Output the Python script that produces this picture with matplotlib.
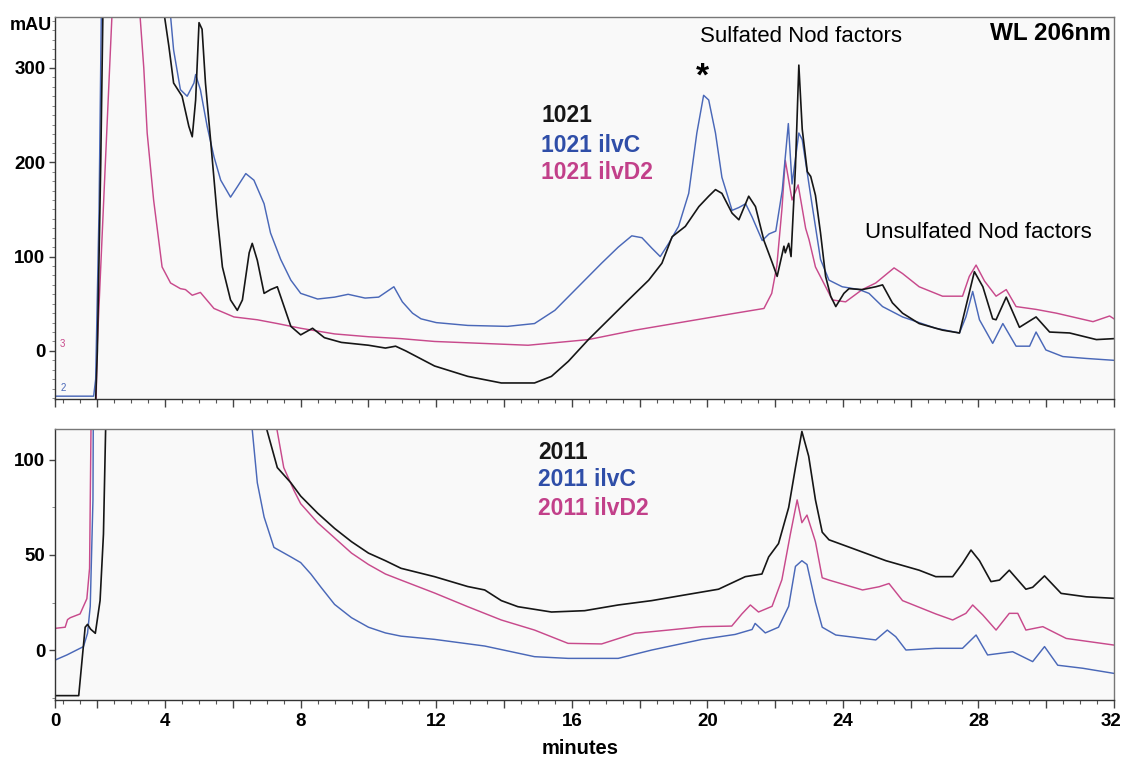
import matplotlib
matplotlib.use("Agg")
import matplotlib.pyplot as plt
import matplotlib.transforms as mtransforms
from matplotlib.ticker import MultipleLocator, FixedLocator
import numpy as np

plt.rcParams['font.family'] = ['Liberation Sans', 'DejaVu Sans']

# ---- data (minutes, mAU) ----
# upper panel: 1021 strains
top_1021 = [(0.75, -52), (1.95, -52), (2.0, 0), (2.1, 200), (2.18, 400), (2.3, 600), (3.9, 600),
            (3.96, 360), (4.11, 323), (4.25, 284), (4.5, 270), (4.7, 238), (4.8, 227), (4.9, 266),
            (5.0, 348), (5.09, 341), (5.19, 284), (5.34, 224), (5.54, 142), (5.69, 89), (5.93, 54),
            (6.13, 43), (6.28, 54), (6.48, 104), (6.57, 114), (6.72, 96), (6.92, 61), (7.11, 65),
            (7.31, 68), (7.51, 47), (7.71, 26), (8.0, 17), (8.35, 24), (8.7, 14), (9.2, 9),
            (10.0, 6), (10.5, 3), (10.8, 5), (11.1, 0), (11.95, -16), (12.93, -27), (13.92, -34),
            (14.9, -34), (15.4, -27), (15.9, -11), (16.49, 12), (17.08, 33), (17.67, 54),
            (18.27, 75), (18.66, 93), (18.96, 121), (19.35, 132), (19.75, 153), (20.04, 164),
            (20.24, 171), (20.43, 167), (20.73, 146), (20.93, 139), (21.22, 164), (21.42, 153),
            (21.67, 117), (21.92, 93), (22.06, 79), (22.26, 111), (22.3, 104), (22.4, 114),
            (22.47, 100), (22.6, 195), (22.7, 303), (22.8, 235), (22.95, 190), (23.05, 185),
            (23.19, 165), (23.34, 125), (23.49, 79), (23.64, 58), (23.79, 47), (24.03, 61),
            (24.18, 66), (24.57, 65), (24.97, 68), (25.17, 70), (25.46, 51), (25.76, 40),
            (26.25, 29), (26.94, 22), (27.44, 19), (27.63, 47), (27.88, 84), (28.13, 68),
            (28.42, 34), (28.52, 33), (28.82, 57), (29.21, 25), (29.7, 36), (30.1, 20),
            (30.69, 19), (31.48, 12), (32.0, 13)]

top_ilvC = [(0.75, -48), (1.89, -48), (1.95, -30), (2.05, 150), (2.13, 400), (2.3, 600), (4.0, 600),
            (4.16, 355), (4.25, 319), (4.45, 277), (4.65, 270), (4.85, 284), (4.9, 293), (5.04, 277),
            (5.24, 238), (5.44, 206), (5.64, 181), (5.93, 163), (6.13, 174), (6.38, 188), (6.62, 181),
            (6.92, 156), (7.11, 125), (7.41, 97), (7.71, 75), (8.0, 61), (8.5, 55), (9.0, 57),
            (9.4, 60), (9.9, 56), (10.3, 57), (10.75, 68), (11.0, 52), (11.3, 40), (11.55, 34),
            (12.0, 30), (12.93, 27), (14.1, 26), (14.9, 29), (15.5, 43), (16.19, 68), (16.88, 93),
            (17.37, 110), (17.77, 122), (18.07, 120), (18.36, 109), (18.61, 100), (18.86, 114),
            (19.15, 132), (19.45, 167), (19.69, 231), (19.89, 271), (20.04, 266), (20.24, 231),
            (20.43, 184), (20.73, 149), (20.93, 152), (21.13, 156), (21.32, 142), (21.62, 117),
            (21.82, 124), (22.02, 127), (22.21, 170), (22.39, 241), (22.5, 177), (22.7, 231),
            (22.8, 224), (23.09, 155), (23.34, 97), (23.59, 75), (23.98, 68), (24.48, 65),
            (24.77, 61), (25.17, 47), (25.76, 36), (26.74, 24), (27.44, 19), (27.63, 36),
            (27.83, 63), (28.03, 33), (28.42, 8), (28.72, 29), (29.11, 5), (29.51, 5), (29.7, 20),
            (29.99, 1), (30.49, -6), (31.18, -8), (32.0, -10)]

top_ilvD2 = [(0.75, -60), (1.96, -60), (1.99, 0), (2.2, 170), (2.43, 355), (2.5, 600), (3.2, 600),
             (3.26, 355), (3.37, 300), (3.47, 231), (3.66, 160), (3.91, 89), (4.16, 72), (4.45, 66),
             (4.6, 65), (4.8, 59), (5.04, 62), (5.44, 45), (6.03, 36), (6.72, 33), (7.31, 29),
             (8.0, 24), (9.0, 18), (10.0, 15), (10.96, 13), (11.95, 10), (14.71, 6), (16.49, 12),
             (17.87, 22), (19.35, 31), (20.83, 40), (21.67, 45), (21.9, 61), (22.05, 90), (22.2, 150),
             (22.3, 202), (22.5, 160), (22.68, 176), (22.9, 130), (23.0, 118), (23.19, 89),
             (23.39, 75), (23.69, 54), (24.08, 52), (24.57, 65), (24.97, 72), (25.51, 88),
             (25.76, 82), (26.25, 68), (26.94, 58), (27.53, 58), (27.73, 79), (27.93, 91),
             (28.18, 74), (28.52, 58), (28.82, 65), (29.11, 47), (29.7, 44), (30.3, 40),
             (31.38, 31), (31.87, 37), (32.0, 34)]

# lower panel: 2011 strains
bot_2011 = [(0.75, -24), (1.45, -24), (1.55, -5), (1.64, 12), (1.71, 13.5), (1.8, 11), (1.94, 8.8),
            (2.08, 26), (2.18, 61), (2.26, 130), (2.3, 300), (6.9, 300), (7.0, 116), (7.31, 96),
            (7.71, 88), (8.0, 81), (8.5, 72), (9.0, 64), (9.5, 57), (10.0, 51), (10.5, 47),
            (10.96, 43), (11.95, 38.6), (12.93, 33.4), (13.43, 31.6), (13.92, 26), (14.41, 22.8),
            (15.4, 20), (16.38, 20.7), (17.37, 23.7), (18.36, 26), (19.34, 29), (20.33, 32),
            (21.12, 38.6), (21.61, 40), (21.81, 49), (22.1, 56), (22.4, 75), (22.6, 96),
            (22.79, 115), (22.99, 102), (23.19, 79), (23.39, 62), (23.59, 58), (24.28, 53.5),
            (25.27, 47), (26.25, 42), (26.74, 38.6), (27.24, 38.6), (27.53, 45.6), (27.78, 52.6),
            (28.03, 47), (28.37, 36), (28.62, 36.8), (28.91, 42), (29.4, 32), (29.6, 33),
            (29.95, 39), (30.44, 29.8), (31.18, 28), (32.0, 27.2)]

bot_ilvC = [(0.75, -5.3), (1.1, -2.6), (1.59, 1.8), (1.71, 8.8), (1.79, 23), (1.87, 79), (1.92, 300),
            (6.5, 300), (6.57, 116), (6.72, 88), (6.92, 70), (7.21, 54), (7.71, 49), (8.0, 46),
            (8.3, 40), (8.6, 33), (9.0, 24), (9.5, 17), (10.0, 12), (10.5, 9), (10.96, 7.3),
            (11.95, 5.6), (13.43, 2.1), (14.9, -3.5), (15.89, -4.4), (17.37, -4.4), (18.36, 0),
            (19.84, 5.6), (20.82, 8.2), (21.32, 10.8), (21.41, 14), (21.71, 9), (22.1, 12),
            (22.4, 23), (22.6, 44), (22.79, 47), (22.94, 45), (23.19, 25), (23.39, 12),
            (23.79, 7.9), (24.97, 5.3), (25.31, 10.5), (25.56, 7), (25.86, 0), (26.74, 0.9),
            (27.53, 0.9), (27.93, 7.9), (28.27, -2.6), (29.01, -0.9), (29.6, -6.1), (29.95, 1.8),
            (30.34, -8), (31.08, -9.6), (32.0, -12.3)]

bot_ilvD2 = [(0.75, 11.4), (1.05, 12), (1.12, 16), (1.2, 17), (1.49, 19), (1.69, 27), (1.77, 43),
             (1.82, 130), (1.9, 300), (7.2, 300), (7.3, 116), (7.5, 96), (7.8, 84), (8.0, 77),
             (8.5, 67), (9.0, 59), (9.5, 51), (10.0, 45), (10.5, 40), (10.96, 36.8), (11.95, 30),
             (12.93, 22.8), (13.92, 15.8), (14.9, 10.5), (15.89, 3.5), (16.88, 3.2), (17.86, 8.8),
             (18.85, 10.5), (19.84, 12.3), (20.72, 12.6), (21.02, 19), (21.27, 23.7), (21.51, 20),
             (21.91, 23), (22.2, 37), (22.45, 61), (22.65, 79), (22.79, 67), (22.94, 71),
             (23.19, 57), (23.39, 38), (23.59, 36.8), (24.58, 31.6), (25.07, 33.3), (25.36, 35),
             (25.76, 26), (26.74, 19), (27.24, 15.8), (27.63, 19.3), (27.83, 23.7), (28.13, 18.4),
             (28.52, 10.5), (28.91, 19.3), (29.16, 19.3), (29.4, 10.5), (29.9, 12.3), (30.2, 9.6),
             (30.59, 6.1), (32.0, 2.6)]

top_labels = ['1021', '1021 ilvC', '1021 ilvD2']
bot_labels = ['2011', '2011 ilvC', '2011 ilvD2']

c_black = '#161616'
c_blue = '#4a68b8'
c_mag = '#c84a8c'
t_blue = '#2f4ea8'
t_mag = '#c2408a'

x0, x1 = 0.75, 32.0

fig = plt.figure(figsize=(11.22, 7.61), dpi=100)
fig.patch.set_facecolor('white')

W, H = 1122, 761
ax1 = fig.add_axes([55 / W, 1 - 399 / H, (1114 - 55) / W, (399 - 17) / H])
ax2 = fig.add_axes([55 / W, 1 - 700 / H, (1114 - 55) / W, (700 - 429) / H])


def draw(ax, series):
    for pts, col, lw in series:
        t, v = zip(*pts)
        ax.plot(t, v, color=col, lw=lw, solid_joinstyle='round')


draw(ax1, [(top_ilvD2, c_mag, 1.05), (top_ilvC, c_blue, 1.05), (top_1021, c_black, 1.2)])
draw(ax2, [(bot_ilvD2, c_mag, 1.05), (bot_ilvC, c_blue, 1.05), (bot_2011, c_black, 1.2)])

ax1.set_ylim(-51, 354)
ax2.set_ylim(-26.3, 116.3)

majors = [x0] + list(range(2, 33, 2))
for ax in (ax1, ax2):
    ax.set_xlim(x0, x1)
    ax.set_facecolor('#f9f9f9')
    ax.xaxis.set_major_locator(FixedLocator(majors))
    ax.xaxis.set_minor_locator(FixedLocator(np.arange(1.0, 32.01, 0.5)))
    ax.tick_params(axis='x', which='major', direction='out', length=6, width=1.0, color='#444')
    ax.tick_params(axis='x', which='minor', direction='out', length=3, width=0.8, color='#555')
    ax.tick_params(axis='y', which='major', direction='out', length=4, width=1.0, color='#444', pad=3)
    ax.tick_params(axis='y', which='minor', direction='out', length=2, width=0.6, color='#777')
    for s in ax.spines.values():
        s.set_color('#777')
        s.set_linewidth(1.0)
    ax.spines['left'].set_color('#333')
    ax.spines['bottom'].set_color('#333')

ax1.set_xticklabels([''] * len(majors))
ax2.set_xticklabels(['0'] + [str(m) if m % 4 == 0 else '' for m in majors[1:]],
                    fontsize=13.5, fontweight='bold')
# keep the last label inside the picture
last = ax2.get_xticklabels()[-1]
last.set_transform(last.get_transform() + mtransforms.ScaledTranslation(-3 / 100, 0, fig.dpi_scale_trans))

ax1.set_yticks([0, 100, 200, 300])
ax1.set_yticklabels(['0', '100', '200', '300'], fontsize=13.5, fontweight='bold')
ax1.yaxis.set_minor_locator(MultipleLocator(10))
ax2.set_yticks([0, 50, 100])
ax2.set_yticklabels(['0', '50', '100'], fontsize=13.5, fontweight='bold')
ax2.yaxis.set_minor_locator(MultipleLocator(25))

# annotations
ax1.text(0.997, 337, 'WL 206nm', transform=ax1.get_yaxis_transform(), ha='right', va='center',
         fontsize=17.5, fontweight='bold')
ax1.text(22.75, 333, 'Sulfated Nod factors', ha='center', va='center', fontsize=16)
ax1.text(28.0, 125, 'Unsulfated Nod factors', ha='center', va='center', fontsize=16)
ax1.text(19.84, 290, '*', ha='center', va='center', fontsize=24, fontweight='bold')

for lab, yy, col in zip(top_labels, [250, 218, 189], [c_black, t_blue, t_mag]):
    ax1.text(15.1, yy, lab, ha='left', va='center', fontsize=16.5, fontweight='bold', color=col)
for lab, yy, col in zip(bot_labels, [103.7, 89.5, 74.7], [c_black, t_blue, t_mag]):
    ax2.text(15.0, yy, lab, ha='left', va='center', fontsize=16.5, fontweight='bold', color=col)

# channel markers at the baseline
ax1.text(0.9, 7, '3', color=c_mag, fontsize=7, ha='left', va='center')
ax1.text(0.9, -39, '2', color=c_blue, fontsize=7, ha='left', va='center')

fig.text(10 / W, 1 - 25 / H, 'mAU', ha='left', va='center', fontsize=13, fontweight='bold')
fig.text(580 / W, 1 - 748 / H, 'minutes', ha='center', va='center', fontsize=14.5, fontweight='bold')

fig.savefig('out.png', dpi=100, facecolor=fig.get_facecolor())
